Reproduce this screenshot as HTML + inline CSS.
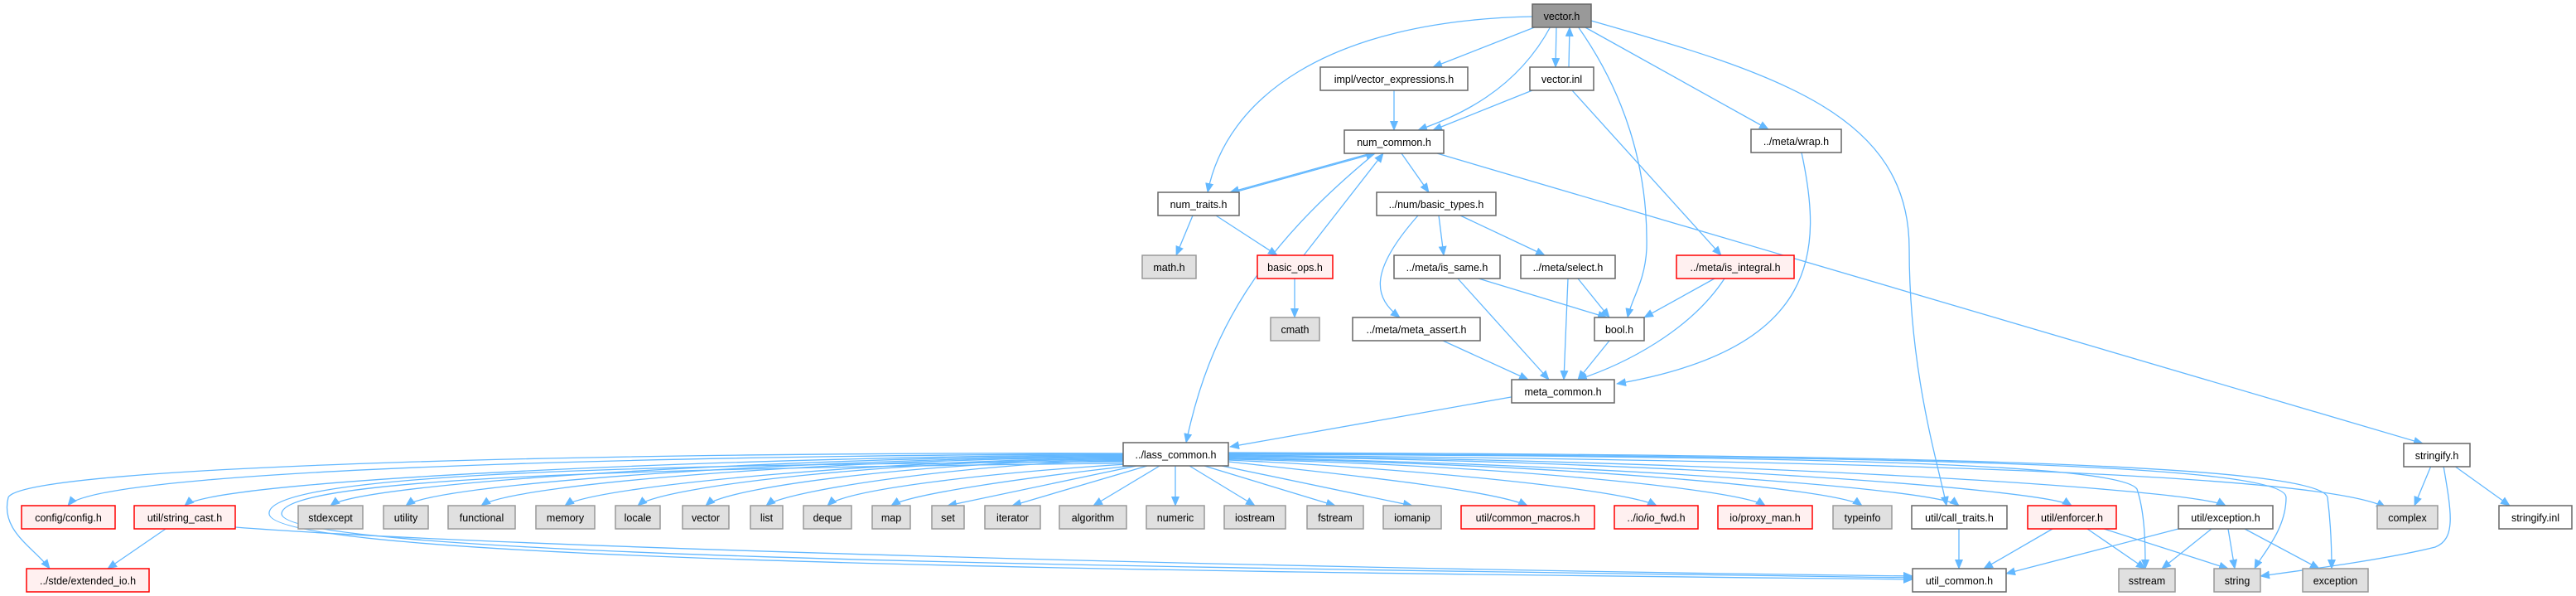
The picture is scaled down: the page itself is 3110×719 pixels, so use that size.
<!DOCTYPE html>
<html><head><meta charset="utf-8"><style>
html,body{margin:0;padding:0;background:#fff;width:3110px;height:719px;overflow:hidden}
svg{display:block}
text{font-family:"Liberation Sans","DejaVu Sans",sans-serif;font-size:12.5px;fill:#000;text-anchor:middle}
.w{fill:#fff;stroke:#666;stroke-width:1.5}
.g{fill:#e0e0e0;stroke:#999;stroke-width:1.5}
.r{fill:#fff0f0;stroke:#f00;stroke-width:1.5}
.d{fill:#999;stroke:#666;stroke-width:1.5}
.e path{fill:none;stroke:#63b8ff;stroke-width:1.3;marker-end:url(#a)}
</style></head><body>
<svg width="3110" height="719" viewBox="0 0 3110 719">
<defs><marker id="a" markerUnits="userSpaceOnUse" markerWidth="12" markerHeight="10" refX="11" refY="5" orient="auto"><path d="M0,0 L12,5 L0,10 z" fill="#63b8ff"/></marker></defs>
<g class="e">
<path d="M1855,32 L1730,81"/>
<path d="M1872,32 C1830,110 1760,140 1712,157"/>
<path d="M1879,32 L1878,81"/>
<path d="M1894,81 L1895,33"/>
<path d="M1850,20 C1600,25 1480,120 1458,232"/>
<path d="M1905,32 C1960,110 1990,200 1988,300 C1986,340 1970,360 1965,383"/>
<path d="M1912,32 L2135,156"/>
<path d="M1921,25 C2150,90 2305,140 2305,300 C2305,450 2340,560 2350,610"/>
<path d="M1683,109 L1683,157"/>
<path d="M1850,109 L1730,157"/>
<path d="M1898,109 L2078,308"/>
<path d="M1655,185 L1485,232"/>
<path d="M1490,232 L1660,185"/>
<path d="M1692,185 L1725,232"/>
<path d="M1735,185 L2925,535"/>
<path d="M1660,185 C1520,300 1460,400 1432,534"/>
<path d="M1440,260 L1420,308"/>
<path d="M1468,260 L1542,308"/>
<path d="M1574,308 L1670,185"/>
<path d="M1563,336 L1563,383"/>
<path d="M1737,260 L1743,308"/>
<path d="M1763,260 L1865,308"/>
<path d="M1712,260 C1650,330 1660,360 1690,383"/>
<path d="M1785,336 L1940,383"/>
<path d="M1760,336 L1870,458"/>
<path d="M1905,336 L1943,383"/>
<path d="M1893,336 L1888,458"/>
<path d="M2070,336 L1985,383"/>
<path d="M2082,336 C2040,400 1960,440 1905,458"/>
<path d="M1742,411 L1845,458"/>
<path d="M1943,411 L1905,458"/>
<path d="M2175,184 C2200,300 2200,420 1952,463"/>
<path d="M1830,478 L1485,539"/>
<!-- lass_common to row 8 left -->
<path d="M1356,548 C1000,548 122,560 82,610"/>
<path d="M1356,549 C1000,549 263,575 223,610"/>
<path d="M1356,550 C1000,550 439,580 399,610"/>
<path d="M1356,551 C1050,551 530,580 490,610"/>
<path d="M1356,552 C1050,552 621,582 581,610"/>
<path d="M1356,553 C1100,553 717,585 682,610"/>
<path d="M1356,554 C1100,554 800,585 770,610"/>
<path d="M1356,555 C1150,555 880,585 852,610"/>
<path d="M1356,556 C1200,556 950,590 925,610"/>
<path d="M1360,560 C1200,570 1020,590 999,610"/>
<path d="M1365,562 C1250,575 1100,595 1076,610"/>
<path d="M1372,562 L1144,610"/>
<path d="M1385,562 L1222,610"/>
<path d="M1400,562 L1320,610"/>
<path d="M1419,562 L1419,610"/>
<path d="M1436,562 L1515,610"/>
<path d="M1454,562 L1612,610"/>
<path d="M1475,562 L1705,610"/>
<path d="M1483,557 C1600,570 1800,590 1844,610"/>
<path d="M1483,555 C1700,565 1960,590 2000,610"/>
<path d="M1483,554 C1800,560 2100,590 2131,610"/>
<path d="M1483,553 C1900,560 2220,590 2248,610"/>
<path d="M1483,552 C1950,560 2340,590 2365,610"/>
<path d="M1483,551 C2000,555 2470,590 2501,610"/>
<path d="M1483,550 C2100,555 2650,590 2687,610"/>
<path d="M1483,549 C2200,555 2800,570 2880,612"/>
<path d="M1483,548 C2200,550 2560,560 2580,590 C2590,620 2590,660 2590,686"/>
<path d="M1483,547 C2300,550 2760,560 2760,600 C2760,640 2730,670 2722,686"/>
<path d="M1483,546 C2300,548 2800,560 2810,600 C2815,640 2815,670 2815,686"/>
<path d="M1356,547 C800,545 30,560 10,600 C0,640 40,660 60,686"/>
<path d="M1356,557 C700,560 320,575 325,620 C330,680 1500,690 2309,699"/>
<path d="M1356,559 C700,565 340,580 340,620 C345,675 1500,685 2309,697"/>
<path d="M284,636 C600,660 1500,685 2309,695"/>
<path d="M200,638 L130,686"/>
<path d="M2935,562 L2915,610"/>
<path d="M2963,562 L3030,610"/>
<path d="M2950,562 C2960,620 2965,650 2940,660 C2880,675 2780,688 2729,695"/>
<path d="M2365,638 L2365,686"/>
<path d="M2478,638 L2395,686"/>
<path d="M2520,638 L2590,686"/>
<path d="M2540,638 L2690,686"/>
<path d="M2630,638 L2422,692"/>
<path d="M2670,638 L2610,686"/>
<path d="M2690,638 L2698,686"/>
<path d="M2710,638 L2800,686"/>
</g>
<g>
<rect class="d" x="1850" y="5" width="71" height="28"/><text x="1885.5" y="24">vector.h</text>
<rect class="w" x="1594" y="81" width="178" height="28"/><text x="1683" y="100">impl/vector_expressions.h</text>
<rect class="w" x="1847" y="81" width="77" height="28"/><text x="1885.5" y="100">vector.inl</text>
<rect class="w" x="1623" y="157" width="120" height="28"/><text x="1683" y="176">num_common.h</text>
<rect class="w" x="2114" y="156" width="109" height="28"/><text x="2168.5" y="175">../meta/wrap.h</text>
<rect class="w" x="1398" y="232" width="98" height="28"/><text x="1447" y="251">num_traits.h</text>
<rect class="w" x="1662" y="232" width="144" height="28"/><text x="1734" y="251">../num/basic_types.h</text>
<rect class="g" x="1379" y="308" width="65" height="28"/><text x="1411.5" y="327">math.h</text>
<rect class="r" x="1518" y="308" width="91" height="28"/><text x="1563.5" y="327">basic_ops.h</text>
<rect class="w" x="1683" y="308" width="128" height="28"/><text x="1747" y="327">../meta/is_same.h</text>
<rect class="w" x="1836" y="308" width="114" height="28"/><text x="1893" y="327">../meta/select.h</text>
<rect class="r" x="2024" y="308" width="142" height="28"/><text x="2095" y="327">../meta/is_integral.h</text>
<rect class="g" x="1534" y="383" width="59" height="28"/><text x="1563.5" y="402">cmath</text>
<rect class="w" x="1633" y="383" width="154" height="28"/><text x="1710" y="402">../meta/meta_assert.h</text>
<rect class="w" x="1925" y="383" width="60" height="28"/><text x="1955" y="402">bool.h</text>
<rect class="w" x="1825" y="458" width="124" height="28"/><text x="1887" y="477">meta_common.h</text>
<rect class="w" x="1356" y="534" width="127" height="28"/><text x="1419.5" y="553">../lass_common.h</text>
<rect class="w" x="2902" y="535" width="80" height="28"/><text x="2942" y="554">stringify.h</text>

<rect class="r" x="26" y="610" width="113" height="28"/><text x="82.5" y="629">config/config.h</text>
<rect class="r" x="162" y="610" width="122" height="28"/><text x="223" y="629">util/string_cast.h</text>
<rect class="g" x="360" y="610" width="78" height="28"/><text x="399" y="629">stdexcept</text>
<rect class="g" x="463" y="610" width="54" height="28"/><text x="490" y="629">utility</text>
<rect class="g" x="541" y="610" width="81" height="28"/><text x="581.5" y="629">functional</text>
<rect class="g" x="647" y="610" width="71" height="28"/><text x="682.5" y="629">memory</text>
<rect class="g" x="743" y="610" width="54" height="28"/><text x="770" y="629">locale</text>
<rect class="g" x="824" y="610" width="56" height="28"/><text x="852" y="629">vector</text>
<rect class="g" x="906" y="610" width="39" height="28"/><text x="925.5" y="629">list</text>
<rect class="g" x="970" y="610" width="58" height="28"/><text x="999" y="629">deque</text>
<rect class="g" x="1053" y="610" width="46" height="28"/><text x="1076" y="629">map</text>
<rect class="g" x="1125" y="610" width="39" height="28"/><text x="1144.5" y="629">set</text>
<rect class="g" x="1189" y="610" width="67" height="28"/><text x="1222.5" y="629">iterator</text>
<rect class="g" x="1279" y="610" width="81" height="28"/><text x="1319.5" y="629">algorithm</text>
<rect class="g" x="1384" y="610" width="70" height="28"/><text x="1419" y="629">numeric</text>
<rect class="g" x="1478" y="610" width="74" height="28"/><text x="1515" y="629">iostream</text>
<rect class="g" x="1578" y="610" width="68" height="28"/><text x="1612" y="629">fstream</text>
<rect class="g" x="1670" y="610" width="70" height="28"/><text x="1705" y="629">iomanip</text>
<rect class="r" x="1764" y="610" width="161" height="28"/><text x="1844.5" y="629">util/common_macros.h</text>
<rect class="r" x="1949" y="610" width="101" height="28"/><text x="1999.5" y="629">../io/io_fwd.h</text>
<rect class="r" x="2074" y="610" width="114" height="28"/><text x="2131" y="629">io/proxy_man.h</text>
<rect class="g" x="2213" y="610" width="71" height="28"/><text x="2248.5" y="629">typeinfo</text>
<rect class="w" x="2308" y="610" width="115" height="28"/><text x="2365.5" y="629">util/call_traits.h</text>
<rect class="r" x="2448" y="610" width="107" height="28"/><text x="2501.5" y="629">util/enforcer.h</text>
<rect class="w" x="2630" y="610" width="114" height="28"/><text x="2687" y="629">util/exception.h</text>
<rect class="g" x="2870" y="610" width="73" height="28"/><text x="2906.5" y="629">complex</text>
<rect class="w" x="3017" y="610" width="88" height="28"/><text x="3061" y="629">stringify.inl</text>

<rect class="r" x="32" y="686" width="148" height="28"/><text x="106" y="705">../stde/extended_io.h</text>
<rect class="w" x="2309" y="686" width="113" height="28"/><text x="2365.5" y="705">util_common.h</text>
<rect class="g" x="2558" y="686" width="68" height="28"/><text x="2592" y="705">sstream</text>
<rect class="g" x="2673" y="686" width="56" height="28"/><text x="2701" y="705">string</text>
<rect class="g" x="2780" y="686" width="79" height="28"/><text x="2819.5" y="705">exception</text>
</g>
</svg>
</body></html>
